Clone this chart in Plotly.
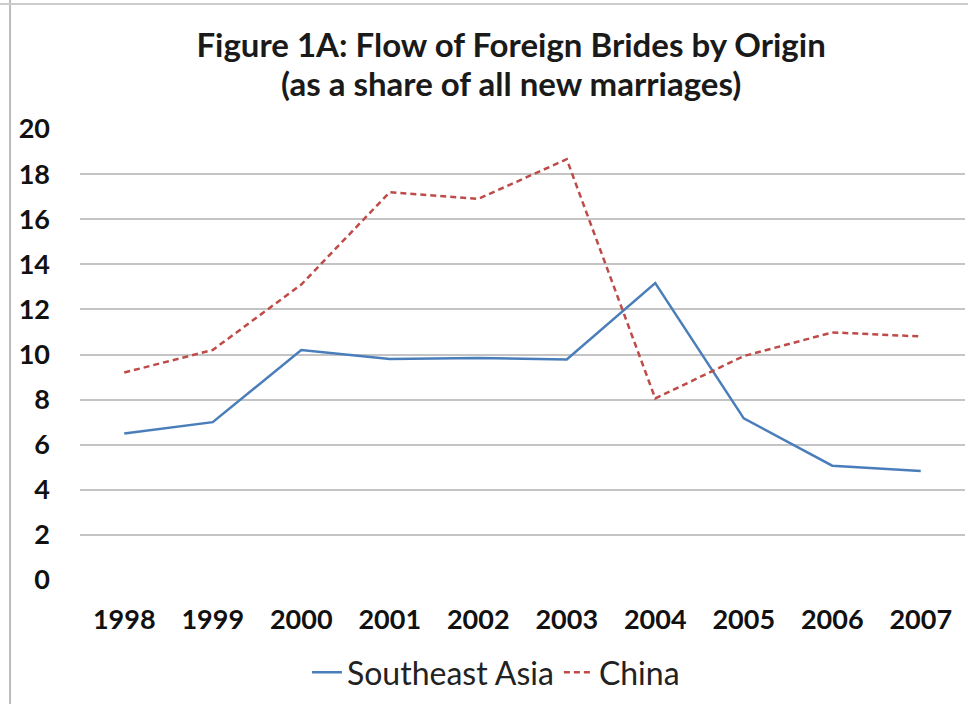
import plotly.graph_objects as go

years = ["1998", "1999", "2000", "2001", "2002", "2003", "2004", "2005", "2006", "2007"]
southeast_asia = [6.5, 7.0, 10.2, 9.8, 9.85, 9.78, 13.17, 7.17, 5.07, 4.83]
china = [9.2, 10.2, 13.1, 17.2, 16.9, 18.66, 8.05, 9.93, 10.98, 10.8]
y_ticks = [0, 2, 4, 6, 8, 10, 12, 14, 16, 18, 20]
title_line1 = "Figure 1A: Flow of Foreign Brides by Origin"
title_line2 = "(as a share of all new marriages)"

font_family = "Lato, sans-serif"

fig = go.Figure()
fig.add_trace(go.Scatter(x=years, y=southeast_asia, mode="lines", name="Southeast Asia",
                         line=dict(color="#4a7ebb", width=2.5)))
fig.add_trace(go.Scatter(x=years, y=china, mode="lines", name="China",
                         line=dict(color="#be4b48", width=2.5, dash="6px,4px")))

fig.update_layout(
    width=968, height=704,
    margin=dict(l=80, r=3, t=129, b=124),
    paper_bgcolor="white", plot_bgcolor="white",
    title=dict(text="<b>" + title_line1 + "</b>",
               x=0.528, xanchor="center", y=1 - 45 / 704, yanchor="middle",
               font=dict(family=font_family, size=33, color="#1a1a1a")),
    annotations=[
        dict(text="<b>" + title_line2 + "</b>", xref="paper", yref="paper",
             x=0.487, xanchor="center", y=1 + (129 - 83) / 451, yanchor="middle",
             showarrow=False, font=dict(family=font_family, size=33, color="#1a1a1a")),
    ],
    xaxis=dict(type="category", range=[-0.5, 9.5], showgrid=False, showline=False, ticks="",
               tickfont=dict(family=font_family, size=27, color="#111111", weight="bold"),
               ticklabelstandoff=21),
    yaxis=dict(range=[0, 20], tickvals=y_ticks, showgrid=True, gridcolor="#c4c4c4", gridwidth=1.5,
               zeroline=False, showline=False, ticks="",
               tickfont=dict(family=font_family, size=27, color="#111111", weight="bold"),
               ticklabelstandoff=29),
    legend=dict(orientation="h", x=0.47, xanchor="center", y=-0.205, yanchor="middle",
                font=dict(family=font_family, size=32, color="#222222"),
                tracegroupgap=0),
    shapes=[
        dict(type="line", xref="paper", yref="paper", x0=-0.079, x1=-0.079, y0=-0.3, y1=1.3,
             line=dict(color="#bbbbbb", width=2)),
        dict(type="line", xref="paper", yref="paper", x0=-0.1, x1=1.1, y0=1.277, y1=1.277,
             line=dict(color="#cccccc", width=2)),
    ],
)

fig.write_html("out.html")
